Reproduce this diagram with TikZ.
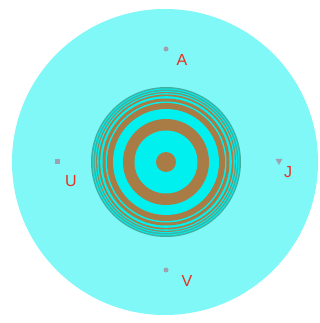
\documentclass[tikz,border=0pt]{standalone}
\usepackage{fontspec}
\setmainfont{Liberation Sans}
\usetikzlibrary{shapes.geometric}
\definecolor{bgcyan}{RGB}{128,248,248}
\definecolor{incyan}{RGB}{0,240,240}
\definecolor{ringbrown}{RGB}{168,124,68}
\definecolor{rimteal}{RGB}{64,176,160}
\definecolor{mark}{RGB}{160,160,176}
\definecolor{lab}{RGB}{232,48,32}
\tikzset{
  lbl/.style={text=lab, font=\fontsize{16}{16}\selectfont, inner sep=0pt},
  dotmark/.style={circle, fill=mark, inner sep=0pt, minimum size=5pt},
  sqmark/.style={rectangle, fill=mark, inner sep=0pt, minimum size=5pt},
  trimark/.style={regular polygon, regular polygon sides=3, shape border rotate=180, fill=mark, inner sep=0pt, minimum size=8pt},
}
\begin{document}
\begin{tikzpicture}[x=1pt,y=1pt]
\useasboundingbox (0,0) rectangle (320,323);
\fill[white] (0,0) rectangle (320,323);
\fill[bgcyan] (165,161) circle (153);
% rings
\coordinate (c) at (166,161);
\fill[rimteal] (c) circle (75);
\fill[incyan] (c) circle (73.5);
\fill[rimteal] (c) circle (72.5);
\fill[incyan] (c) circle (71);
\fill[ringbrown!70!rimteal] (c) circle (70);
\fill[incyan] (c) circle (68.8);
\fill[ringbrown] (c) circle (67.5);
\fill[incyan] (c) circle (65.8);
\fill[ringbrown] (c) circle (63.5);
\fill[incyan] (c) circle (60.5);
\fill[ringbrown] (c) circle (59);
\fill[incyan] (c) circle (53);
\fill[ringbrown] (c) circle (43);
\fill[incyan] (c) circle (31.5);
\fill[ringbrown] (c) circle (10);
% markers
\node[dotmark] (ma) at (166,274) {};
\node[sqmark] (mu) at (57.5,161) {};
\node[trimark] (mj) at (279,162) {};
\node[dotmark] (mv) at (166,53) {};
% labels
\node[lbl] (A) at (182,263) {A};
\node[lbl] (U) at (71,142) {U};
\node[lbl] (J) at (288,151) {J};
\node[lbl] (V) at (187,42) {V};
\end{tikzpicture}
\end{document}
